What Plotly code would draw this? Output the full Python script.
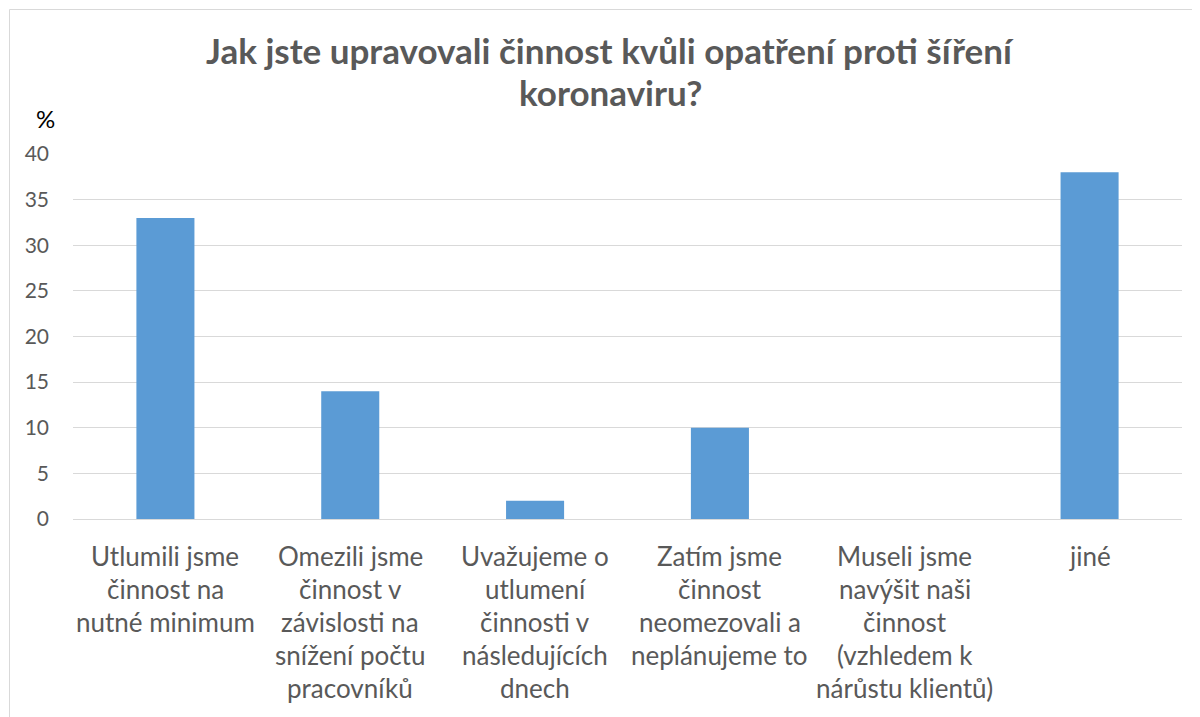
import plotly.graph_objects as go

categories = [
    "Utlumili jsme<br>činnost na<br>nutné minimum",
    "Omezili jsme<br>činnost v<br>závislosti na<br>snížení počtu<br>pracovníků",
    "Uvažujeme o<br>utlumení<br>činnosti v<br>následujících<br>dnech",
    "Zatím jsme<br>činnost<br>neomezovali a<br>neplánujeme to",
    "Museli jsme<br>navýšit naši<br>činnost<br>(vzhledem k<br>nárůstu klientů)",
    "jiné",
]
values = [33, 14, 2, 10, 0, 38]
title_lines = ["Jak jste upravovali činnost kvůli opatření proti šíření", "koronaviru?"]
y_ticks = [0, 5, 10, 15, 20, 25, 30, 35, 40]

W, H = 1192, 709          # page body adds an 8px margin
L, R, T, B = 65, 18, 146, 198
FONT = "Lato"
GRAY = "#595959"
PW = W - L - R
PH = H - T - B


def px(xp):
    return (xp - L) / PW


def py(yp):
    return (H - B - yp) / PH


fig = go.Figure(go.Bar(
    x=list(range(len(categories))), y=values,
    marker=dict(color="#5b9bd5", line=dict(width=0)),
    width=0.314,
))

annotations = []
for i, lab in enumerate(categories):
    for j, line in enumerate(lab.split("<br>")):
        annotations.append(dict(
            x=i, xref="x", xanchor="center", y=0, yref="paper", yanchor="middle",
            yshift=-(37 + 33 * j),
            text=line, showarrow=False, font=dict(family=FONT, size=26, color=GRAY),
        ))
for j, line in enumerate(title_lines):
    annotations.append(dict(
        x=px(602), xref="paper", xanchor="center", y=1, yref="paper", yanchor="middle",
        yshift=104 - 42 * j,
        text="<b>" + line + "</b>", showarrow=False,
        font=dict(family=FONT, size=35, color=GRAY),
    ))
annotations.append(dict(
    x=px(37), xref="paper", xanchor="center", y=1, yref="paper", yanchor="middle",
    yshift=36, text="%", showarrow=False,
    font=dict(family=FONT, size=24, color="#000000"),
))

shapes = [dict(type="rect", xref="paper", yref="paper",
               x0=px(1.5), y0=py(760), x1=px(1240), y1=py(1.5),
               line=dict(color="#d9d9d9", width=1), fillcolor="rgba(0,0,0,0)", layer="below")]

fig.update_layout(
    width=W, height=H,
    margin=dict(l=L, r=R, t=T, b=B),
    paper_bgcolor="white", plot_bgcolor="white",
    showlegend=False,
    annotations=annotations,
    shapes=shapes,
    xaxis=dict(range=[-0.5, len(categories) - 0.5], showticklabels=False, showgrid=False,
               zeroline=False, showline=False, ticks=""),
    yaxis=dict(range=[0, 40], tickvals=y_ticks, showgrid=True, gridcolor="#d9d9d9", gridwidth=1,
               zeroline=True, zerolinecolor="#d9d9d9", zerolinewidth=1, showline=False,
               tickfont=dict(family=FONT, size=21, color=GRAY), ticklabelstandoff=23),
)

fig.write_html("out.html")
